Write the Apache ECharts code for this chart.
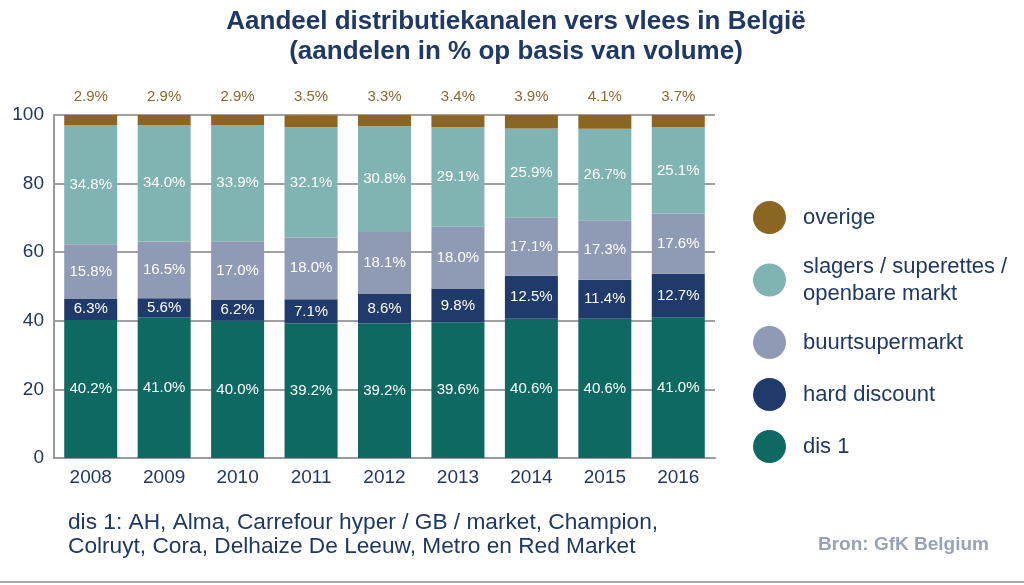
<!DOCTYPE html>
<html>
<head>
<meta charset="utf-8">
<script src="https://cdn.jsdelivr.net/npm/echarts@6/dist/echarts.min.js"></script>
<style>html,body{margin:0;padding:0;background:#fff;}#c{width:1024px;height:585px;}</style>
</head>
<body>
<div id="c"></div>
<script>
const years = ['2008','2009','2010','2011','2012','2013','2014','2015','2016'];
const dis1 = [40.2,41.0,40.0,39.2,39.2,39.6,40.6,40.6,41.0];
const hardDiscount = [6.3,5.6,6.2,7.1,8.6,9.8,12.5,11.4,12.7];
const buurt = [15.8,16.5,17.0,18.0,18.1,18.0,17.1,17.3,17.6];
const slagers = [34.8,34.0,33.9,32.1,30.8,29.1,25.9,26.7,25.1];
const overige = [2.9,2.9,2.9,3.5,3.3,3.4,3.9,4.1,3.7];
const yTicks = [0,20,40,60,80,100];

const FONT = '"Liberation Sans", Arial, sans-serif';
const NAVY = '#1f3864';
const names = ['dis 1','hard discount','buurtsupermarkt','slagers / superettes /\nopenbare markt','overige'];
const colors = ['#0e6963','#1f3a6b','#8f9bb5','#7fb4b2','#8b6522'];
const datas = [dis1, hardDiscount, buurt, slagers, overige];

const chart = echarts.init(document.getElementById('c'), null, {renderer:'canvas'});
const series = datas.map((d,i)=>({
  name: names[i],
  type: 'bar',
  stack: 'total',
  data: d,
  barWidth: 53,
  itemStyle: {color: colors[i]},
  label: i < 4 ? {
    show: true, position: 'inside', color: '#ffffff', fontFamily: FONT, fontSize: 15,
    formatter: p => p.value.toFixed(1) + '%'
  } : {
    show: true, position: 'top', distance: 11, color: '#8a6a33', fontFamily: FONT, fontSize: 15,
    formatter: p => p.value.toFixed(1) + '%'
  }
}));

chart.setOption({
  animation: false,
  backgroundColor: '#ffffff',
  title: {
    text: 'Aandeel distributiekanalen vers vlees in België\n(aandelen in % op basis van volume)',
    left: 511, top: 2, textAlign: 'center',
    textStyle: {fontFamily: FONT, fontSize: 26, fontWeight: 'bold', color: NAVY, lineHeight: 30}
  },
  grid: {left: 54, right: 309, top: 115, bottom: 127},
  legend: {
    orient: 'vertical', left: 748, top: 196,
    data: names.slice().reverse(),
    icon: 'circle', itemWidth: 33, itemHeight: 33, itemGap: 19,
    textStyle: {fontFamily: FONT, fontSize: 22, color: NAVY, lineHeight: 27, padding: [0,0,0,12]}
  },
  xAxis: {
    type: 'category', data: years,
    axisLine: {lineStyle: {color: '#9a9a9a', width: 2}},
    axisTick: {show: false},
    axisLabel: {fontFamily: FONT, fontSize: 19, color: NAVY, margin: 10}
  },
  yAxis: {
    type: 'value', min: 0, max: 100, interval: 20,
    axisLine: {show: true, lineStyle: {color: '#9a9a9a', width: 2}},
    axisTick: {show: false},
    splitLine: {lineStyle: {color: '#a0a0a0', width: 2}},
    axisLabel: {fontFamily: FONT, fontSize: 19, color: NAVY, margin: 10,
      formatter: v => yTicks.includes(v) ? String(v) : ''}
  },
  series: series,
  graphic: [
    {type: 'text', left: 68, top: 511, style: {
      text: 'dis 1: AH, Alma, Carrefour hyper / GB / market, Champion,\nColruyt, Cora, Delhaize De Leeuw, Metro en Red Market',
      font: '22.7px ' + FONT, fill: NAVY, lineHeight: 24}},
    {type: 'text', left: 818, top: 535, style: {
      text: 'Bron: GfK Belgium', font: 'bold 19px ' + FONT, fill: '#9aa3b6'}},
    {type: 'rect', left: 0, top: 581, shape: {width: 1024, height: 2}, style: {fill: '#a8a8a8'}}
  ]
});
</script>
</body>
</html>
